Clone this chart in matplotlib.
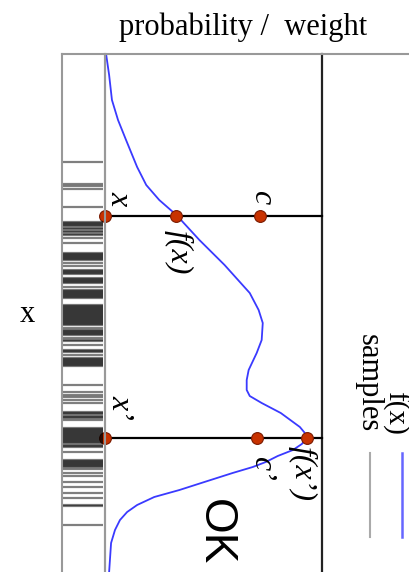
import matplotlib
matplotlib.use("Agg")
import matplotlib.pyplot as plt
from matplotlib.lines import Line2D

W, H = 410, 572

# target density f(x): x position along the sample axis, f value (0..1)
curve_x = [0.00, 0.12, 0.42, 0.92, 1.32, 1.72, 2.26, 2.62, 2.92, 3.22, 3.72, 4.22,
           4.78, 5.12, 5.38, 5.72, 5.98, 6.32, 6.52, 6.72, 6.84, 6.98, 7.18, 7.46,
           7.58, 7.68, 7.80, 7.92, 8.04, 8.16, 8.26, 8.38, 8.56, 8.72, 8.86, 9.02,
           9.16, 9.32, 9.52, 9.78, 10.36, 11.52]
curve_f = [0.005, 0.009, 0.019, 0.032, 0.060, 0.097, 0.148, 0.190, 0.250, 0.329, 0.435, 0.551,
           0.667, 0.708, 0.727, 0.722, 0.699, 0.662, 0.653, 0.653, 0.667, 0.722, 0.810, 0.898,
           0.921, 0.931, 0.907, 0.866, 0.796, 0.741, 0.681, 0.588, 0.458, 0.343, 0.227, 0.148,
           0.102, 0.069, 0.046, 0.028, 0.019, 0.012]

# accepted samples (rug)
samples = [2.16, 2.60, 2.64, 2.70, 3.06,
           3.36, 3.38, 3.40, 3.42, 3.44, 3.48, 3.50, 3.54, 3.56, 3.60, 3.62, 3.68, 3.78,
           3.98, 4.00, 4.02, 4.04, 4.06, 4.08, 4.10, 4.12, 4.18, 4.24,
           4.32, 4.34, 4.36, 4.38, 4.40, 4.48, 4.50, 4.52, 4.54, 4.56, 4.58, 4.66,
           4.72, 4.74, 4.76, 4.78, 4.80, 4.82, 4.84, 4.86, 4.88,
           5.02, 5.04, 5.06, 5.08, 5.10, 5.12, 5.14, 5.16, 5.18, 5.20, 5.22, 5.24,
           5.26, 5.28, 5.30, 5.32, 5.34, 5.36, 5.38, 5.40, 5.42, 5.48,
           5.52, 5.54, 5.56, 5.58, 5.60, 5.62, 5.68, 5.72, 5.74, 5.82,
           5.92, 5.94, 5.96, 6.02, 6.08, 6.10, 6.12, 6.14, 6.16, 6.18, 6.20, 6.22, 6.24,
           6.62, 6.76, 6.82, 6.86, 6.92, 6.98,
           7.16, 7.18, 7.20, 7.24, 7.26, 7.28, 7.32,
           7.48, 7.50, 7.52, 7.54, 7.56, 7.58, 7.60, 7.62, 7.64, 7.66, 7.68, 7.70,
           7.72, 7.74, 7.76, 7.78, 7.82, 7.84, 7.86, 7.96,
           8.12, 8.14, 8.16, 8.18, 8.20, 8.22, 8.24, 8.26, 8.30, 8.38, 8.44,
           8.56, 8.66, 8.78, 8.88, 9.02, 9.04, 9.42]

# the two proposals: position, f value, uniform draw c
prop_x = [3.24, 7.68]
prop_f = [0.329, 0.931]
prop_c = [0.713, 0.699]

serif = "Liberation Serif"


def fx(px):
    return px / W


def fy(py):
    return 1 - py / H


top_px, bot_px = 54, 630
ylim = ((bot_px - top_px) / 50.0, 0)

fig = plt.figure(figsize=(W / 100, H / 100), dpi=100)

ax = fig.add_axes([fx(105), fy(bot_px), fx(322) - fx(105), fy(top_px) - fy(bot_px)])
rug = fig.add_axes([fx(62), fy(bot_px), fx(105) - fx(62), fy(top_px) - fy(bot_px)])

for a in (ax, rug):
    a.set_ylim(*ylim)
    a.set_xticks([])
    a.set_yticks([])
    a.spines["top"].set_visible(False)
    a.spines["bottom"].set_visible(False)
    a.patch.set_alpha(0)

ax.set_xlim(0, 1)
ax.spines["left"].set_color("#999999")
ax.spines["left"].set_linewidth(1.5)
ax.spines["right"].set_color("#222222")
ax.spines["right"].set_linewidth(1.6)

rug.set_xlim(0, 1)
for s in ("left", "right"):
    rug.spines[s].set_color("#999999")
    rug.spines[s].set_linewidth(1.5)
rug.hlines(samples, 0.02, 0.95, color="black", alpha=0.5, lw=1.6)

# density curve
ax.plot(curve_f, curve_x, color="#3a3aff", lw=1.3, zorder=2)

# proposal lines and dots
for xv, fv, cv in zip(prop_x, prop_f, prop_c):
    ax.plot([0, 1], [xv, xv], color="black", lw=1.6, zorder=3, clip_on=False)
    ax.plot([0, fv, cv], [xv, xv, xv], "o", ms=8.5, mfc="#c83200", mec="#7a1a00",
            mew=0.8, zorder=4, clip_on=False)

lab = dict(rotation=-90, ha="center", va="center", family=serif, style="italic",
           fontsize=23, textcoords="offset pixels", annotation_clip=False)
ax.annotate("x", (0, prop_x[0]), xytext=(14, 18), **lab)
ax.annotate("c", (prop_c[0], prop_x[0]), xytext=(2, 19), **lab)
ax.annotate("f(x)", (prop_f[0], prop_x[0]), xytext=(2, -36), **lab)
ax.annotate("x\u2019", (0, prop_x[1]), xytext=(15, 31), **lab)
ax.annotate("c\u2019", (prop_c[1], prop_x[1]), xytext=(5, -30), **lab)
ax.annotate("f(x\u2019)", (prop_f[1], prop_x[1]), xytext=(-5, -35), **lab)

fig.text(fx(215), fy(532), "OK", rotation=-90, ha="center", va="center",
         family="Liberation Sans", fontsize=33)

# frame top line and titles
fig.add_artist(Line2D([fx(62), 1], [fy(top_px), fy(top_px)], color="#999999", lw=1.5))
fig.text(fx(243), fy(27), "probability /  weight", ha="center", va="center",
         family=serif, fontsize=22)
fig.text(fx(27), fy(315), "x", ha="center", va="center", family=serif, fontsize=22)

# legend
fig.text(fx(395), fy(413), "f(x)", rotation=-90, ha="center", va="center",
         family=serif, fontsize=21)
fig.add_artist(Line2D([fx(402), fx(402)], [fy(453), fy(537)], color="#6666ff", lw=1.8))
fig.text(fx(368), fy(383), "samples", rotation=-90, ha="center", va="center",
         family=serif, fontsize=22)
fig.add_artist(Line2D([fx(370), fx(370)], [fy(453), fy(537)], color="#aaaaaa", lw=1.5))

fig.savefig("out.png", dpi=100)
